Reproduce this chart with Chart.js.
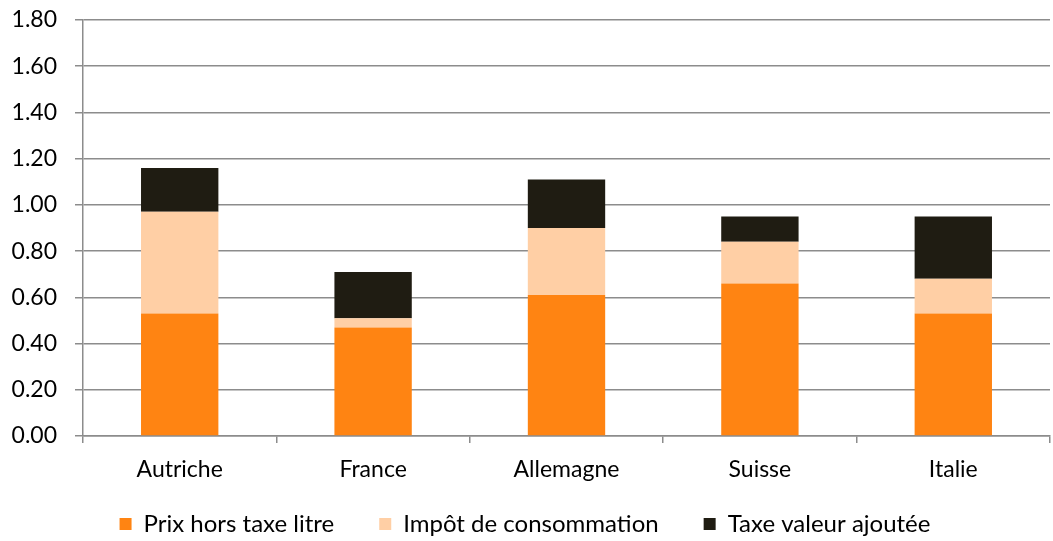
<!DOCTYPE html>
<html>
<head>
<meta charset="utf-8">
<script src="https://cdn.jsdelivr.net/npm/chart.js@4"></script>
<style>
  html, body { margin: 0; padding: 0; background: #fff; }
  #wrap { width: 1053px; height: 541px; }
</style>
</head>
<body>
<div id="wrap"><canvas id="graphique"></canvas></div>
<script>
// pays
const pays = ['Autriche', 'France', 'Allemagne', 'Suisse', 'Italie'];
// valeurs
const prixHorsTaxe = [0.53, 0.47, 0.61, 0.66, 0.53];
const impotConsommation = [0.44, 0.04, 0.29, 0.18, 0.15];
const taxeValeurAjoutee = [0.19, 0.20, 0.21, 0.11, 0.27];

const police = 'Lato, "Liberation Sans", sans-serif';

// descend la légende pour garder un grand écart entre les items
const placeLegende = {
    id: 'placeLegende',
    afterLayout(chart) {
        const lg = chart.legend;
        lg.top = 467;
        lg.bottom = 541;
        lg.height = 74;
    }
};

const graphique = new Chart(document.getElementById('graphique'), {
    type: 'bar',
    data: {
        labels: pays,
        datasets: [
            { label: 'Prix hors taxe litre', data: prixHorsTaxe, backgroundColor: '#ff8412' },
            { label: 'Impôt de consommation', data: impotConsommation, backgroundColor: '#ffcfa5' },
            { label: 'Taxe valeur ajoutée', data: taxeValeurAjoutee, backgroundColor: '#1f1c12' }
        ]
    },
    plugins: [placeLegende],
    options: {
        responsive: true,
        maintainAspectRatio: false,
        animation: false,
        layout: { padding: { top: 0, right: 3, left: 0, bottom: 0 } },
        datasets: { bar: { barPercentage: 0.4, categoryPercentage: 1 } },
        scales: {
            x: {
                stacked: true,
                afterFit: axe => { axe.height = 48; },
                grid: { offset: true, drawOnChartArea: false, color: '#8c8c8c', lineWidth: 1.5, tickLength: 7 },
                border: { color: '#8c8c8c', width: 1.5 },
                ticks: { color: '#000', font: { family: police, size: 23 }, padding: 13 }
            },
            y: {
                stacked: true,
                min: 0,
                max: 1.8,
                afterFit: axe => { axe.width = 83; axe.paddingTop = 20; axe.paddingBottom = 0; },
                grid: { color: '#8c8c8c', lineWidth: 1.5, tickLength: 8 },
                border: { color: '#8c8c8c', width: 1.5 },
                ticks: {
                    stepSize: 0.2,
                    color: '#000',
                    font: { family: police, size: 23 },
                    padding: 18,
                    callback: v => v.toFixed(2)
                }
            }
        },
        plugins: {
            legend: {
                position: 'bottom',
                maxHeight: 57,
                labels: {
                    color: '#000',
                    font: { family: police, size: 24 },
                    boxWidth: 12,
                    boxHeight: 12,
                    padding: 45
                }
            },
            tooltip: { enabled: false }
        }
    }
});
</script>
</body>
</html>
